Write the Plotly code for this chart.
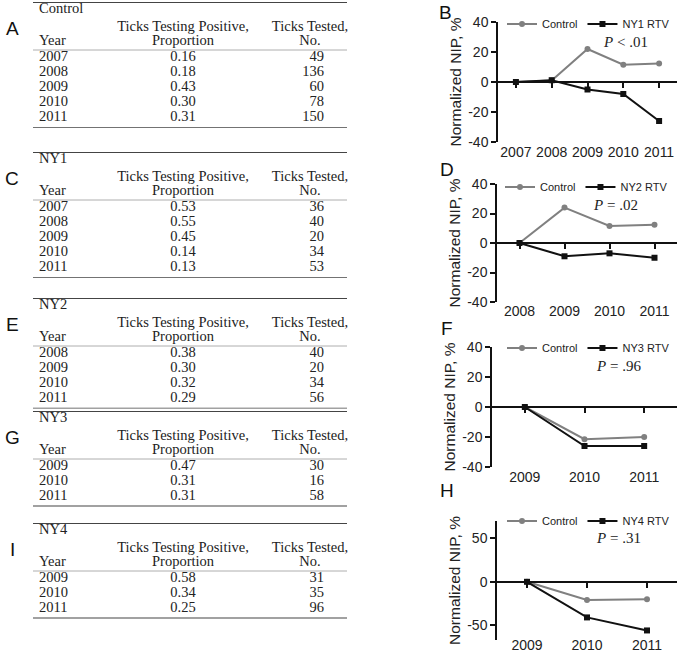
import plotly.graph_objects as go

W, H = 678, 657

# ---------------- data ----------------
ctrl_years = [2007, 2008, 2009, 2010, 2011]
ctrl_prop = [0.16, 0.18, 0.43, 0.30, 0.31]
ctrl_n = [49, 136, 60, 78, 150]

ny1_years = [2007, 2008, 2009, 2010, 2011]
ny1_prop = [0.53, 0.55, 0.45, 0.14, 0.13]
ny1_n = [36, 40, 20, 34, 53]

ny2_years = [2008, 2009, 2010, 2011]
ny2_prop = [0.38, 0.30, 0.32, 0.29]
ny2_n = [40, 20, 34, 56]

ny3_years = [2009, 2010, 2011]
ny3_prop = [0.47, 0.31, 0.31]
ny3_n = [30, 16, 58]

ny4_years = [2009, 2010, 2011]
ny4_prop = [0.58, 0.34, 0.25]
ny4_n = [31, 35, 96]

hdr_prop = ["Ticks Testing Positive,", "Proportion"]
hdr_n = ["Ticks Tested,", "No."]
hdr_year = "Year"

b_years = [2007, 2008, 2009, 2010, 2011]
b_control = [0, 1, 22, 11.5, 12.3]
b_rtv = [0, 1.2, -5, -8, -26]

d_years = [2008, 2009, 2010, 2011]
d_control = [0, 24, 11.5, 12.4]
d_rtv = [0, -9, -7, -10]

f_years = [2009, 2010, 2011]
f_control = [0, -21.5, -20]
f_rtv = [0, -26, -26]

h_years = [2009, 2010, 2011]
h_control = [0, -21, -20]
h_rtv = [0, -41, -56]

ticks_40 = [-40, -20, 0, 20, 40]
ticklabels_40 = ["-40", "-20", "0", "20", "40"]
ticks_50 = [-50, 0, 50]
ticklabels_50 = ["-50", "0", "50"]

# ---------------- style ----------------
SERIF = "Liberation Serif"
SANS = "Liberation Sans"
TXT = "#222222"
GRAY = "#808080"
BLACK = "#111111"

fig = go.Figure()

# ---------------- tables ----------------
X0, X1 = 33, 347
COL_YEAR, COL_PROP, COL_NHDR, COL_N = 6, 150, 277, 291
TITLE_Y, HDR1_Y, HDR2_Y, HRULE_Y, R1, PITCH, BPAD = 7.5, 25, 39.5, 48, 55, 15.2, 10
TFONT = 14.5

tables = [
    ("Control", ctrl_years, ctrl_prop, ctrl_n, 2, "A"),
    ("NY1", ny1_years, ny1_prop, ny1_n, 152, "C"),
    ("NY2", ny2_years, ny2_prop, ny2_n, 298, "E"),
    ("NY3", ny3_years, ny3_prop, ny3_n, 411, "G"),
    ("NY4", ny4_years, ny4_prop, ny4_n, 523, "I"),
]

annotations = []
shapes = []

for i, (title, yrs, props, cnts, top, letter) in enumerate(tables):
    k = i + 1
    n = len(yrs)
    height = R1 + (n - 1) * PITCH + BPAD
    fig.update_layout({
        f"xaxis{k}": dict(domain=[X0 / W, X1 / W], range=[0, X1 - X0], visible=False,
                          fixedrange=True, anchor=f"y{k}"),
        f"yaxis{k}": dict(domain=[1 - (top + height) / H, 1 - top / H], range=[height, 0],
                          visible=False, fixedrange=True, anchor=f"x{k}"),
    })
    xs, ys, tx, pos = [], [], [], []

    def cell(x, y, t, p):
        xs.append(x); ys.append(y); tx.append(t); pos.append(p)

    cell(COL_YEAR, TITLE_Y, title, "middle right")
    cell(COL_PROP, HDR1_Y, hdr_prop[0], "middle center")
    cell(COL_NHDR, HDR1_Y, hdr_n[0], "middle center")
    cell(COL_YEAR, HDR2_Y, hdr_year, "middle right")
    cell(COL_PROP, HDR2_Y, hdr_prop[1], "middle center")
    cell(COL_NHDR, HDR2_Y, hdr_n[1], "middle center")
    for r, (yv, pv, nv) in enumerate(zip(yrs, props, cnts)):
        yy = R1 + r * PITCH
        cell(COL_YEAR, yy, str(yv), "middle right")
        cell(COL_PROP, yy, f"{pv:.2f}", "middle center")
        cell(COL_N, yy, str(nv), "middle left")
    fig.add_trace(go.Scatter(x=xs, y=ys, text=tx, textposition=pos, mode="text",
                             textfont=dict(family=SERIF, size=TFONT, color=TXT),
                             xaxis=f"x{k}", yaxis=f"y{k}", showlegend=False,
                             hoverinfo="skip", cliponaxis=False))
    for yv, wdt, col in [(0, 1.8, "#444444"), (HRULE_Y, 0.8, "#999999"), (height, 1.8, "#444444")]:
        shapes.append(dict(type="line", xref=f"x{k}", yref=f"y{k}", x0=0, x1=X1 - X0,
                           y0=yv, y1=yv, line=dict(color=col, width=wdt)))
    annotations.append(dict(text=letter, xref="paper", yref="paper", x=12 / W,
                            y=1 - (top + 26) / H, showarrow=False, xanchor="center",
                            yanchor="middle", font=dict(family=SANS, size=19, color=BLACK)))

# ---------------- charts ----------------
charts = [
    dict(years=b_years, ctrl=b_control, rtv=b_rtv, name="NY1 RTV", x0=498, top=22, bottom=142,
         yr=[-40, 40], tv=ticks_40, tt=ticklabels_40, pad=0.5, lab=0, leg=(502, 24),
         p="<i>P</i> < .01", ppos=(625, 42), letter="B", lpos=(445, 12)),
    dict(years=d_years, ctrl=d_control, rtv=d_rtv, name="NY2 RTV", x0=497, top=184, bottom=302,
         yr=[-40, 40], tv=ticks_40, tt=ticklabels_40, pad=0.5, lab=1, leg=(500, 187),
         p="<i>P</i> = .02", ppos=(615, 205), letter="D", lpos=(447, 169)),
    dict(years=f_years, ctrl=f_control, rtv=f_rtv, name="NY3 RTV", x0=492, top=347, bottom=467,
         yr=[-40, 40], tv=ticks_40, tt=ticklabels_40, pad=0.55, lab=0, leg=(502, 348),
         p="<i>P</i> = .96", ppos=(618, 366), letter="F", lpos=(447, 328)),
    dict(years=h_years, ctrl=h_control, rtv=h_rtv, name="NY4 RTV", x0=497, top=521, bottom=640,
         yr=[-67, 70], tv=ticks_50, tt=ticklabels_50, pad=0.5, lab=5, leg=(502, 521),
         p="<i>P</i> = .31", ppos=(618, 538), letter="H", lpos=(447, 490)),
]

XR = 677
for i, c in enumerate(charts):
    k = 6 + i
    kl = 10 + i
    lg = "legend" if i == 0 else f"legend{i + 1}"
    ydom = [1 - c["bottom"] / H, 1 - c["top"] / H]
    xr = [c["years"][0] - c["pad"], c["years"][-1] + c["pad"]]
    zero_pos = ydom[0] + (0 - c["yr"][0]) / (c["yr"][1] - c["yr"][0]) * (ydom[1] - ydom[0])

    fig.add_trace(go.Scatter(x=c["years"], y=c["ctrl"], name="Control", mode="lines+markers",
                             line=dict(color=GRAY, width=2),
                             marker=dict(symbol="circle", size=6, color=GRAY),
                             xaxis=f"x{k}", yaxis=f"y{k}", legend=lg, cliponaxis=False))
    fig.add_trace(go.Scatter(x=c["years"], y=c["rtv"], name=c["name"], mode="lines+markers",
                             line=dict(color=BLACK, width=2),
                             marker=dict(symbol="square", size=6, color=BLACK),
                             xaxis=f"x{kl}", yaxis=f"y{k}", legend=lg, cliponaxis=False))

    fig.update_layout({
        f"xaxis{k}": dict(domain=[c["x0"] / W, XR / W], range=xr, anchor="free", position=zero_pos,
                          showline=True, linecolor=BLACK, linewidth=1.5, ticks="outside",
                          ticklen=5, tickwidth=1.5, tickcolor=BLACK, tickvals=c["years"],
                          showticklabels=False, showgrid=False, zeroline=False, fixedrange=True),
        f"xaxis{kl}": dict(domain=[c["x0"] / W, XR / W], range=xr, anchor="free",
                           position=ydom[0] + c["lab"] / H,
                           overlaying=f"x{k}", side="bottom", showline=False, ticks="",
                           tickvals=c["years"], ticktext=[str(y) for y in c["years"]],
                           tickfont=dict(family=SANS, size=14, color=TXT),
                           showgrid=False, zeroline=False, fixedrange=True),
        f"yaxis{k}": dict(domain=ydom, range=c["yr"], anchor=f"x{k}", showline=True,
                          linecolor=BLACK, linewidth=1.5, ticks="outside", ticklen=5,
                          tickwidth=1.5, tickcolor=BLACK, tickvals=c["tv"], ticktext=c["tt"],
                          tickfont=dict(family=SANS, size=14, color=TXT), showgrid=False,
                          zeroline=False, fixedrange=True,
                          title=dict(text="Normalized NIP, %", standoff=3,
                                     font=dict(family=SANS, size=15.5, color=TXT))),
        lg: dict(x=c["leg"][0] / W, y=1 - c["leg"][1] / H, xanchor="left", yanchor="middle",
                 orientation="h", font=dict(family=SANS, size=11, color=TXT),
                 bgcolor="rgba(0,0,0,0)", borderwidth=0, itemwidth=30, tracegroupgap=0),
    })
    annotations.append(dict(text=c["p"], xref="paper", yref="paper", x=c["ppos"][0] / W,
                            y=1 - c["ppos"][1] / H, showarrow=False, xanchor="center",
                            yanchor="middle", font=dict(family=SERIF, size=15, color=TXT)))
    annotations.append(dict(text=c["letter"], xref="paper", yref="paper", x=c["lpos"][0] / W,
                            y=1 - c["lpos"][1] / H, showarrow=False, xanchor="center",
                            yanchor="middle", font=dict(family=SANS, size=19, color=BLACK)))

fig.update_layout(width=W, height=H,
                  margin=dict(l=0, r=0, t=0, b=0, pad=0, autoexpand=False),
                  paper_bgcolor="white", plot_bgcolor="white",
                  annotations=annotations, shapes=shapes, hovermode=False)

fig.write_html("out.html", config={"displayModeBar": False},
               post_script="document.body.style.margin='0';document.body.style.padding='0';")
